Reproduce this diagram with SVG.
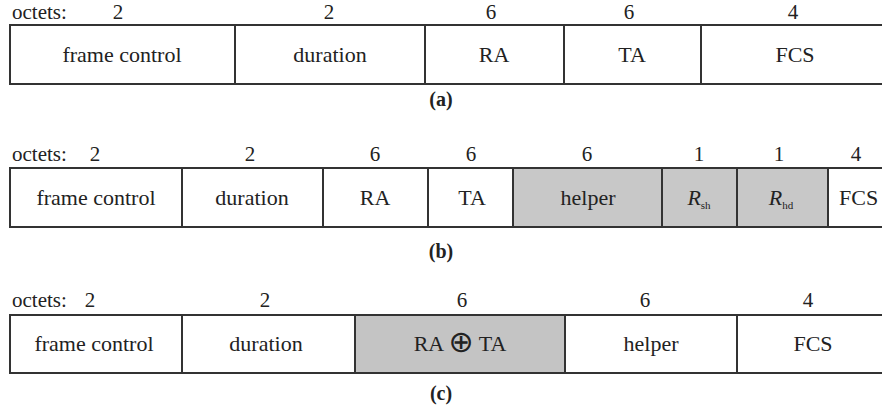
<svg xmlns="http://www.w3.org/2000/svg" width="882" height="411" viewBox="0 0 882 411">
<style>
text{font-family:"Liberation Serif","Times New Roman",serif;font-size:22px;fill:#222;}
.c{text-anchor:middle;}
.o{font-size:21px;}
.cell{fill:#fff;stroke:#333;stroke-width:2;}
.g{fill:#c8c8c8;}
.g2{fill:#c4c4c4;}
.sub{font-size:11px;font-style:normal;}
.cap{font-size:20px;font-weight:bold;}
</style>
<rect width="882" height="411" fill="#fff"/>
<g id="frame-a">
  <g id="a-labels">
    <text class="o" x="12" y="19">octets:</text>
    <text class="o c" x="118" y="19">2</text>
    <text class="o c" x="329" y="19">2</text>
    <text class="o c" x="491" y="19">6</text>
    <text class="o c" x="629" y="19">6</text>
    <text class="o c" x="793" y="19">4</text>
  </g>
  <g id="a-fc"><rect class="cell" x="10" y="25" width="225" height="59"/><text class="c" x="122" y="62">frame control</text></g>
  <g id="a-dur"><rect class="cell" x="235" y="25" width="190" height="59"/><text class="c" x="330" y="62">duration</text></g>
  <g id="a-ra"><rect class="cell" x="425" y="25" width="139" height="59"/><text class="c" x="494" y="62">RA</text></g>
  <g id="a-ta"><rect class="cell" x="564" y="25" width="137" height="59"/><text class="c" x="632" y="62">TA</text></g>
  <g id="a-fcs"><rect class="cell" x="701" y="25" width="190" height="59"/><text class="c" x="795" y="62">FCS</text></g>
  <text class="c cap" x="441" y="106">(a)</text>
</g>
<g id="frame-b">
  <g id="b-labels">
    <text class="o" x="12" y="161">octets:</text>
    <text class="o c" x="95" y="161">2</text>
    <text class="o c" x="250" y="161">2</text>
    <text class="o c" x="375" y="161">6</text>
    <text class="o c" x="471" y="161">6</text>
    <text class="o c" x="587" y="161">6</text>
    <text class="o c" x="699" y="161">1</text>
    <text class="o c" x="779" y="161">1</text>
    <text class="o c" x="856" y="161">4</text>
  </g>
  <g id="b-fc"><rect class="cell" x="10" y="168" width="172" height="59"/><text class="c" x="96" y="205">frame control</text></g>
  <g id="b-dur"><rect class="cell" x="182" y="168" width="141" height="59"/><text class="c" x="252" y="205">duration</text></g>
  <g id="b-ra"><rect class="cell" x="323" y="168" width="105" height="59"/><text class="c" x="375" y="205">RA</text></g>
  <g id="b-ta"><rect class="cell" x="428" y="168" width="85" height="59"/><text class="c" x="472" y="205">TA</text></g>
  <g id="b-helper"><rect class="cell g" x="513" y="168" width="149" height="59"/><text class="c" x="588" y="205">helper</text></g>
  <g id="b-rsh"><rect class="cell g" x="662" y="168" width="75" height="59"/><text class="c" x="699" y="205"><tspan font-style="italic">R</tspan><tspan class="sub" dy="4">sh</tspan></text></g>
  <g id="b-rhd"><rect class="cell g" x="737" y="168" width="91" height="59"/><text class="c" x="781" y="205"><tspan font-style="italic">R</tspan><tspan class="sub" dy="4">hd</tspan></text></g>
  <g id="b-fcs"><rect class="cell" x="828" y="168" width="70" height="59"/><text x="839" y="205">FCS</text></g>
  <text class="c cap" x="441" y="258">(b)</text>
</g>
<g id="frame-c">
  <g id="c-labels">
    <text class="o" x="12" y="307">octets:</text>
    <text class="o c" x="90" y="307">2</text>
    <text class="o c" x="265" y="307">2</text>
    <text class="o c" x="462" y="307">6</text>
    <text class="o c" x="645" y="307">6</text>
    <text class="o c" x="808" y="307">4</text>
  </g>
  <g id="c-fc"><rect class="cell" x="10" y="315" width="172" height="58"/><text class="c" x="94" y="351">frame control</text></g>
  <g id="c-dur"><rect class="cell" x="182" y="315" width="173" height="58"/><text class="c" x="266" y="351">duration</text></g>
  <g id="c-rata"><rect class="cell g2" x="355" y="315" width="210" height="58"/><text class="c" x="460" y="351">RA <tspan font-family="DejaVu Sans" font-size="30" dy="1">⊕</tspan><tspan dy="-1"> TA</tspan></text></g>
  <g id="c-helper"><rect class="cell" x="565" y="315" width="172" height="58"/><text class="c" x="651" y="351">helper</text></g>
  <g id="c-fcs"><rect class="cell" x="737" y="315" width="160" height="58"/><text class="c" x="813" y="351">FCS</text></g>
  <text class="c cap" x="441" y="400">(c)</text>
</g>
</svg>
